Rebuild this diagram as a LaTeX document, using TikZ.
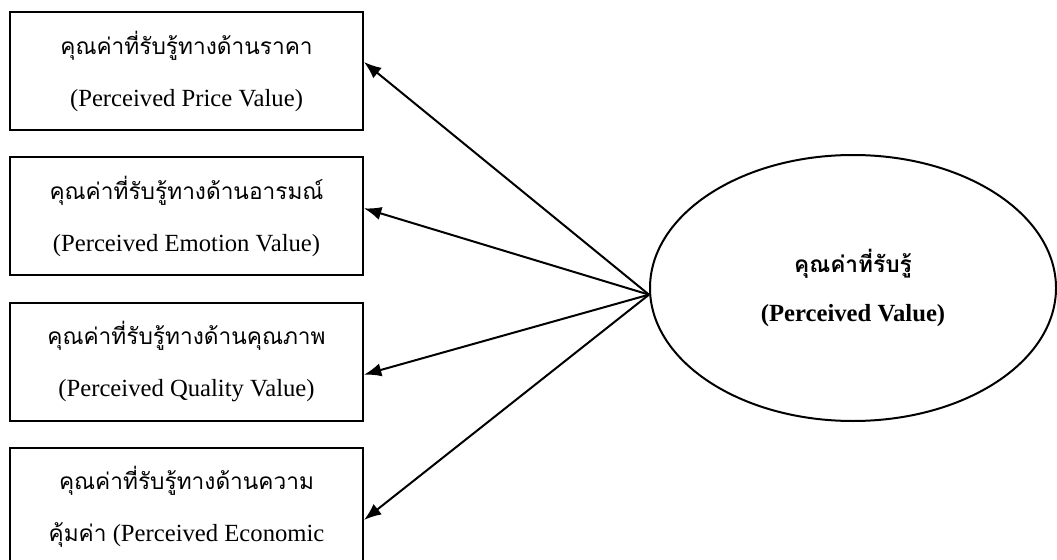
\documentclass[tikz,border=0pt]{standalone}
\usepackage{fontspec}
\setmainfont{Liberation Serif}
\newfontfamily\thaifont[Script=Thai]{Loma}
\usetikzlibrary{arrows.meta, positioning, shapes.geometric}
\tikzset{valuebox/.style={draw, rectangle, line width=1.5pt, minimum width=264.75pt,
    minimum height=88.5pt, inner sep=0pt, align=center,
    font=\fontsize{18.5}{39}\selectfont},
    latent/.style={draw, ellipse, line width=1.5pt, minimum width=304.5pt,
    minimum height=199.5pt, inner sep=0pt, align=center,
    font=\bfseries\fontsize{18.5}{37}\selectfont},
    effect/.style={draw, line width=1.5pt, -{Latex[length=13pt,width=10pt]}}}
\newcommand{\thaitext}[1]{{\thaifont\fontsize{17}{20}\selectfont #1}}

\begin{document}
\begin{tikzpicture}[x=0.75pt, y=-0.75pt]

% Page frame, one unit is one pixel of the reference
\clip (0,0) rectangle (1057,560);
\useasboundingbox (0,0) rectangle (1057,560);

% The four observed dimensions on the left
\node[valuebox] (price) at (186.5,71)
  {\thaitext{คุณค่าที่รับรู้ทางด้านราคา}\\(Perceived Price Value)};
\node[valuebox, below=19pt of price] (emotion)
  {\thaitext{คุณค่าที่รับรู้ทางด้านอารมณ์}\\(Perceived Emotion Value)};
\node[valuebox, below=19pt of emotion] (quality)
  {\thaitext{คุณค่าที่รับรู้ทางด้านคุณภาพ}\\(Perceived Quality Value)};
\node[valuebox, below=19pt of quality] (economic)
  {\thaitext{คุณค่าที่รับรู้ทางด้านความ}\\\thaitext{คุ้มค่า} (Perceived Economic};

% The latent construct on the right
\node[latent] (pv) at (853,288)
  {\thaitext{\bfseries คุณค่าที่รับรู้}\\(Perceived Value)};

% Arrows from the construct to its dimensions
\coordinate (hub) at ([yshift=-5pt]pv.west);
\draw[effect] (hub) -- ([yshift=6.75pt]price.east);
\draw[effect] (hub) -- ([yshift=6pt]emotion.east);
\draw[effect] (hub) -- ([yshift=-9.75pt]quality.east);
\draw[effect] (hub) -- ([yshift=-9.75pt]economic.east);
\end{tikzpicture}
\end{document}
